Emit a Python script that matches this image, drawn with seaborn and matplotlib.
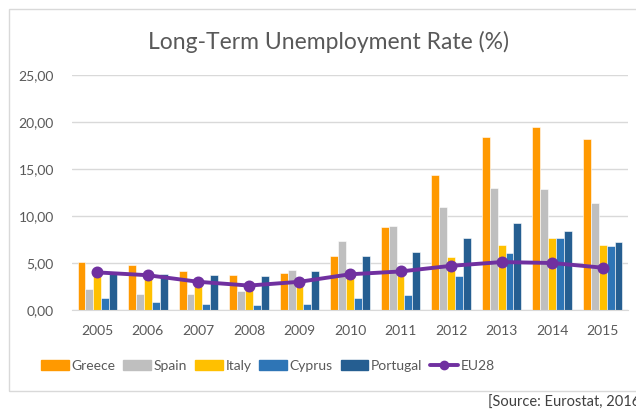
import pandas as pd
import numpy as np
import matplotlib
matplotlib.use("Agg")
import matplotlib.pyplot as plt
import matplotlib.patches as mpatches
from matplotlib.lines import Line2D
from matplotlib.ticker import FuncFormatter
import seaborn as sns

# Datos
years = ["2005", "2006", "2007", "2008", "2009", "2010", "2011", "2012", "2013", "2014", "2015"]
greece = [5.1, 4.8, 4.1, 3.7, 3.9, 5.7, 8.8, 14.4, 18.4, 19.5, 18.2]
spain = [2.2, 1.7, 1.7, 2.0, 4.3, 7.3, 8.9, 11.0, 13.0, 12.9, 11.4]
italy = [3.7, 3.4, 2.9, 3.0, 3.4, 4.0, 4.3, 5.6, 6.9, 7.7, 6.9]
cyprus = [1.3, 0.9, 0.6, 0.5, 0.6, 1.3, 1.6, 3.6, 6.1, 7.7, 6.8]
portugal = [3.9, 3.8, 3.7, 3.6, 4.2, 5.7, 6.2, 7.7, 9.3, 8.4, 7.2]
eu28 = [4.0, 3.7, 3.0, 2.6, 3.0, 3.8, 4.1, 4.7, 5.1, 5.0, 4.5]

paises = ["Greece", "Spain", "Italy", "Cyprus", "Portugal"]
colores = ["#FF9900", "#BFBFBF", "#FFC000", "#2E75B6", "#255E91"]
color_eu = "#7030A0"
gris_texto = "#595959"

df = pd.DataFrame({
    "year": years * 5,
    "pais": np.repeat(paises, len(years)),
    "rate": greece + spain + italy + cyprus + portugal,
})
df_eu = pd.DataFrame({"year": years, "rate": eu28})

sns.set_style("white")
plt.rcParams["font.family"] = ["Lato", "DejaVu Sans"]

fig = plt.figure(figsize=(6.36, 4.11), dpi=100)
ax = fig.add_axes([72 / 636, 1 - 310 / 411, (628 - 72) / 636, (310 - 75) / 411])

sns.barplot(data=df, x="year", y="rate", hue="pais", palette=colores,
            width=0.78, saturation=1, edgecolor="white", linewidth=0.4,
            legend=False, ax=ax)
sns.pointplot(data=df_eu, x="year", y="rate", color=color_eu,
              markers="o", markersize=6.5, linewidth=2.8, ax=ax)

ax.set_ylim(0, 25)
ax.set_yticks([0, 5, 10, 15, 20, 25])
ax.yaxis.set_major_formatter(FuncFormatter(lambda v, p: f"{v:.2f}".replace(".", ",")))
ax.set_xlim(-0.5, len(years) - 0.5)
ax.grid(axis="y", color="#D9D9D9", linewidth=1)
ax.set_axisbelow(True)
for lado in ["top", "right", "left"]:
    ax.spines[lado].set_visible(False)
ax.spines["bottom"].set_color("#D9D9D9")
ax.tick_params(axis="both", length=0, labelsize=10, labelcolor=gris_texto)
ax.tick_params(axis="y", pad=13)
ax.tick_params(axis="x", pad=11)
ax.set_xlabel("")
ax.set_ylabel("")

fig.text(328 / 636, 1 - 42 / 411, "Long-Term Unemployment Rate (%)", ha="center", va="center",
         fontsize=16.5, color=gris_texto)

# Leyenda debajo del gráfico
handles = [mpatches.Patch(color=c, label=p) for c, p in zip(colores, paises)]
handles.append(Line2D([0], [0], color=color_eu, linewidth=2.8, marker="o",
                      markersize=6, label="EU28"))
fig.legend(handles=handles, loc="center", bbox_to_anchor=(268 / 636, 1 - 366 / 411), ncol=6,
           frameon=False, fontsize=10, labelcolor=gris_texto, handlelength=2.0,
           handleheight=0.7, handletextpad=0.2, columnspacing=0.55)

# Marco del área del gráfico
marco = mpatches.Rectangle((9 / 636, 20 / 411), 1.0, 1 - 29 / 411, transform=fig.transFigure,
                           fill=False, edgecolor="#D9D9D9", linewidth=1)
fig.add_artist(marco)

fig.text(488 / 636, 1 - 403 / 411, "[Source: Eurostat, 2016]", ha="left", va="center",
         fontsize=10.5, color="#404040")

fig.savefig("out.png", dpi=100)
